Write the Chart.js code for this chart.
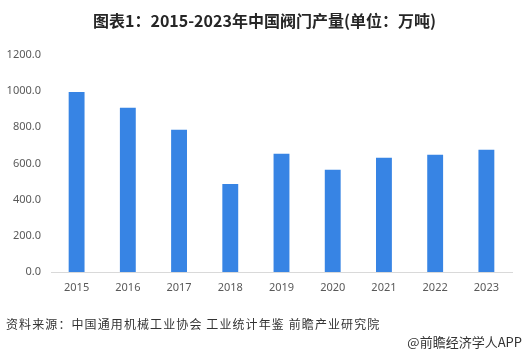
<!DOCTYPE html>
<html>
<head>
<meta charset="utf-8">
<script src="https://cdn.jsdelivr.net/npm/chart.js@4.4.1/dist/chart.umd.min.js"></script>
<style>
  html, body { margin:0; padding:0; background:#fff; }
  #wrap { position:relative; width:529px; height:356px; overflow:hidden; font-family:"Noto Sans CJK SC","Noto Sans",sans-serif; }
  #c { position:absolute; left:0; top:0; }
  .title { position:absolute; left:0; width:529px; top:9px; text-align:center; font-size:16px; font-weight:bold; color:#262626; line-height:22px; }
  .src { position:absolute; left:6px; top:315px; font-size:12px; color:#333; line-height:18px; letter-spacing:1.1px; }
  .app { position:absolute; right:7px; top:333px; font-size:13px; color:#333; line-height:18px; }
</style>
</head>
<body>
<div id="wrap">
  <canvas id="c" width="529" height="356"></canvas>
  <div class="title">图表1：2015-2023年中国阀门产量(单位：万吨)</div>
  <div class="src">资料来源：中国通用机械工业协会 工业统计年鉴 前瞻产业研究院</div>
  <div class="app">@前瞻经济学人APP</div>
</div>
<script>
const categories = ["2015","2016","2017","2018","2019","2020","2021","2022","2023"];
const production = [996, 908, 787, 487, 654, 566, 632, 649, 676];
const yTicks = [0, 200, 400, 600, 800, 1000, 1200];

new Chart(document.getElementById('c'), {
  type: 'bar',
  data: {
    labels: categories,
    datasets: [{
      data: production,
      backgroundColor: '#3784e4',
      barPercentage: 0.62,
      categoryPercentage: 0.5
    }]
  },
  options: {
    responsive: false,
    animation: false,
    layout: { padding: { top: 55, right: 17, bottom: 54, left: 0 } },
    plugins: { legend: { display: false }, tooltip: { enabled: false }, title: { display: false } },
    scales: {
      x: {
        grid: { display: false, drawTicks: false },
        border: { display: true, color: '#d9d9d9', width: 1 },
        ticks: { color: '#595959', font: { size: 11, family: 'Noto Sans' }, padding: 9 },
        afterFit: s => { s.height = 30; }
      },
      y: {
        min: 0, max: 1200,
        afterBuildTicks: s => { s.ticks = yTicks.map(v => ({ value: v })); },
        grid: { display: false, drawTicks: false },
        border: { display: false },
        ticks: { color: '#595959', font: { size: 11, family: 'Noto Sans' }, padding: 10,
                 callback: v => Number(v).toFixed(1) },
        afterFit: s => { s.width = 51; }
      }
    }
  }
});
</script>
</body>
</html>
